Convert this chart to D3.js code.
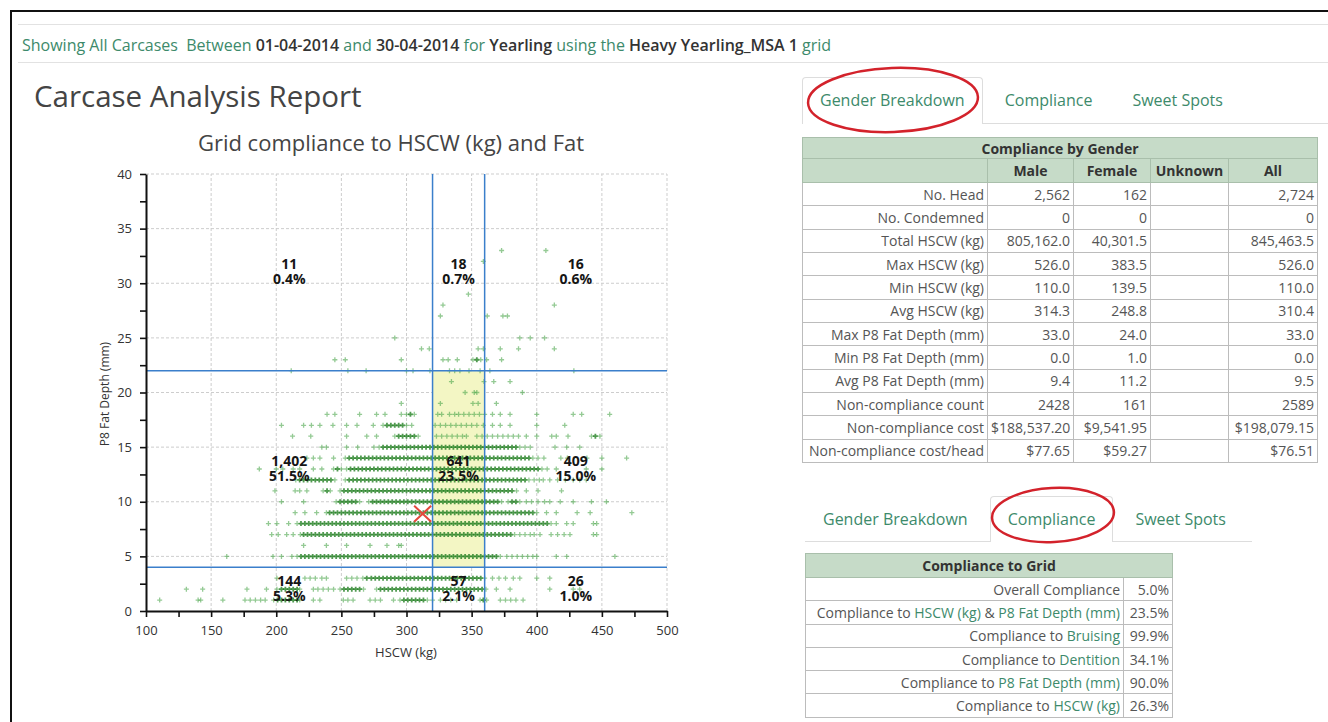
<!DOCTYPE html>
<html>
<head>
<meta charset="utf-8">
<title>Carcase Analysis Report</title>
<script src="https://cdn.jsdelivr.net/npm/d3@7"></script>
<style>
  body { margin: 0; background: #fff; font-family: "Open Sans", sans-serif; }
  #page { position: relative; width: 1328px; height: 722px; overflow: hidden; }
  #chart, #overlay { position: absolute; left: 0; top: 0; }
  #overlay { pointer-events: none; }
  .frame { position: absolute; left: 10px; top: 10px; width: 1330px; height: 720px; border-left: 2px solid #111; border-top: 2px solid #111; }
  .rule { position: absolute; left: 18px; width: 1310px; height: 1px; background: #e2e2e2; }
  #filter { position: absolute; left: 22px; top: 34px; font-size: 16px; color: #3d8a6b; white-space: nowrap; }
  #filter b { color: #333; font-weight: 600; }
  h1 { position: absolute; left: 34px; top: 75px; margin: 0; font-size: 29.5px; font-weight: 400; color: #444; }
  .tabs { position: absolute; display: flex; border-bottom: 1px solid #ddd; }
  .tab { padding: 0 17px; margin-right: 4px; font-size: 16px; color: #3d8a6b; border: 1px solid transparent; border-bottom: none; border-radius: 4px 4px 0 0; }
  .tab.active { border-color: #ddd; background: #fff; margin-bottom: -1px; }
  table { position: absolute; border-collapse: collapse; table-layout: fixed; font-size: 14px; color: #555; }
  td, th { border: 1px solid #bcbcbc; padding: 0 3px; text-align: right; white-space: nowrap; overflow: hidden; }
  th { background: #c6dbc8; color: #333; font-weight: 700; border-color: #a9bfab; }
  .hl { color: #3d8a6b; }
</style>
</head>
<body>
<div id="page">
  <svg id="chart"></svg>
  <div class="frame"></div>
  <div class="rule" style="top:24px"></div>
  <div class="rule" style="top:62px"></div>
  <div id="filter">Showing All Carcases&nbsp; Between <b>01-04-2014</b> and <b>30-04-2014</b> for <b>Yearling</b> using the <b>Heavy Yearling_MSA 1</b> grid</div>
  <h1>Carcase Analysis Report</h1>
  <div id="tabs1" class="tabs" style="left:802px;top:77px;width:526px;"></div>
  <table id="gender" style="left:802px;top:137px;width:515px;"></table>
  <div id="tabs2" class="tabs" style="left:805px;top:496px;width:447px;"></div>
  <table id="compliance" style="left:805px;top:553px;width:367px;"></table>
  <svg id="overlay"></svg>
</div>
<script>
var fatDepths = [33, 32, 29, 28, 27, 25, 24, 23, 22, 21, 20, 19, 18, 17, 16, 15, 14, 13, 12, 11, 10, 9, 8, 7, 6, 5, 3, 2, 1];
var hscwRows = [
  [373, 407],
  [359],
  [347.5],
  [328, 413.5],
  [326, 362, 374, 377.5],
  [291, 387, 395, 406],
  [311.5, 317.5, 355, 359, 372, 386, 413.5],
  [245, 253, 296, 328, 332, 339, 351, 354, 357, 361.5, 373],
  [211.5, 255, 269, 300, 305, 318, 333, 337, 341, 348, 356.5, 364, 428.5],
  [334.5, 359.5, 367, 379.5],
  [345, 352, 354, 389],
  [296, 326, 351, 355, 369],
  [239, 245, 264, 277, 283.5, 296, 300, 303, 306, 324, 327, 333, 337, 340, 344, 348, 352, 356, 360, 366, 372, 379.5, 400, 428, 434.5, 456],
  [204, 221, 227, 233.5, 243.5, 254, 262, 274.5, 282, 285, 288, 291, 294, 297, 300, 304, 322, 326, 330, 334, 338, 342, 346, 350, 354, 359, 366, 372, 379.5, 400, 421.5],
  [212.5, 226.5, 254, 269.5, 277, 291, 294, 297, 300, 303, 306, 309, 323, 327, 331, 335, 339, 343, 346, 354, 358, 362, 366, 370, 374, 378, 382, 386, 392, 400, 411.5, 415, 424, 442, 445, 448.5],
  [235, 238.5, 254, 262.5, 275, 279, 282, 285, 288, 291, 294, 297, 300, 303, 306, 309, 312, 315, 318, 321, 324, 327, 330, 333, 336, 339, 342, 345, 348, 351, 354, 357, 360, 363, 366, 369, 372, 375, 378, 381, 384, 387, 391, 395, 414, 423, 433],
  [223.5, 228.5, 233.5, 244, 253, 256, 259, 262, 265, 268, 271, 274, 277, 280, 283, 286, 289, 292, 295, 298, 301, 304, 307, 310, 313, 316, 319, 322, 325, 328, 331, 334, 337, 340, 343, 346, 349, 352, 355, 358, 361, 364, 367, 370, 373, 376, 379, 382, 385, 388, 391, 394, 397, 401, 405.5, 418.5, 423.5, 438.5, 450, 469],
  [187, 200, 205, 213, 218, 228.5, 235, 244, 247, 250, 254, 257, 260, 263, 266, 269, 272, 275, 278, 281, 284, 287, 290, 293, 296, 299, 302, 305, 308, 311, 314, 317, 320, 323, 326, 329, 332, 335, 338, 341, 344, 347, 350, 353, 356, 359, 362, 365, 368, 371, 374, 377, 380, 383, 386, 389, 392, 395, 398, 401, 404, 408, 415, 438, 450],
  [215, 218, 221, 224, 227, 230, 233, 236, 239, 242, 245, 253, 256, 259, 262, 265, 268, 271, 274, 277, 280, 283, 286, 289, 292, 295, 298, 301, 304, 307, 310, 313, 316, 319, 322, 325, 328, 331, 334, 337, 340, 343, 346, 349, 352, 355, 358, 361, 364, 367, 370, 373, 376, 379, 382, 385, 388, 391, 394, 398, 402, 405, 410, 416, 422, 428, 433, 438],
  [199, 214.5, 218, 223.5, 236, 239, 241.5, 249, 252, 255, 258, 261, 264, 267, 270, 273, 276, 279, 282, 285, 288, 291, 294, 297, 300, 303, 306, 309, 312, 315, 318, 321, 324, 327, 330, 333, 336, 339, 342, 345, 348, 351, 354, 357, 360, 363, 366, 369, 372, 375, 378, 381, 384.5, 392, 401, 419],
  [204, 221, 246, 249, 252, 255, 258, 261, 264, 271, 274, 277, 280, 283, 286, 289, 292, 295, 298, 301, 304, 307, 310, 313, 316, 319, 322, 325, 328, 331, 334, 337, 340, 343, 346, 349, 352, 355, 358, 361, 364, 367, 370, 373, 378, 381, 384, 387, 392, 396, 401, 406, 410, 418, 428, 442, 453.5],
  [214.5, 222, 231, 238.5, 241, 244, 247, 250, 253, 256, 259, 262, 265, 268, 271, 274, 277, 280, 283, 286, 289, 292, 295, 298, 301, 304, 307, 310, 313, 316, 319, 322, 325, 328, 331, 334, 337, 340, 343, 346, 349, 352, 355, 358, 361, 364, 367, 370, 373, 376, 379, 382, 385, 388, 391, 394, 397, 400, 407.5, 415, 431, 441, 473],
  [194, 200.5, 209.5, 216, 219, 222, 225, 228, 231, 234, 237, 240, 243, 246, 249, 252, 255, 258, 261, 264, 267, 270, 273, 276, 279, 282, 285, 288, 291, 294, 297, 300, 303, 306, 309, 312, 315, 318, 321, 324, 327, 330, 333, 336, 339, 342, 345, 348, 351, 354, 357, 360, 363, 366, 369, 372, 375, 378, 381, 384, 387, 390, 393, 396, 399, 402, 405, 408, 411, 415, 423, 428, 443.5, 446],
  [196.5, 201.5, 208, 213, 218.5, 221, 224, 227, 230, 233, 236, 239, 242, 245, 248, 251, 254, 257, 260, 263, 266, 269, 272, 275, 278, 281, 284, 287, 290, 293, 296, 299, 302, 305, 308, 311, 314, 317, 320, 323, 326, 329, 332, 335, 338, 341, 344, 347, 350, 353, 356, 359, 362, 365, 368, 371, 374, 377, 380, 383, 387, 391, 395, 398, 402.5, 411, 416, 421, 425.5, 443.5, 446],
  [221, 238.5, 254, 272, 285, 294, 296],
  [162, 197.5, 204, 212, 216, 219, 222, 225, 228, 231, 234, 237, 240, 243, 246, 249, 252, 255, 258, 261, 264, 267, 270, 273, 276, 279, 282, 285, 288, 291, 294, 297, 300, 303, 306, 309, 312, 315, 318, 321, 324, 327, 330, 333, 336, 339, 342, 345, 348, 351, 354, 357, 360, 363, 366, 369, 372, 377, 381, 385, 389, 393, 397, 400, 415, 423, 460],
  [200.5, 222, 226, 230, 235, 238.5, 254, 258, 262, 266.5, 269.5, 273, 276, 279, 282, 285, 288, 291, 294, 297, 300, 303, 306, 309, 312, 315, 318, 321, 324, 327, 330, 333, 336, 339, 342, 345, 348, 351, 354, 357, 360, 366, 371, 376, 382, 387, 400, 410],
  [131, 143.5, 177.5, 192.5, 200.5, 204, 207, 210, 213, 216, 218, 228.5, 232, 236, 240, 244, 249, 252, 255, 258, 261, 264, 267, 277, 280, 283, 286, 289, 292, 295, 298, 301, 304, 307, 310, 313, 316, 319, 322, 325, 328, 331, 334, 337, 340, 343, 346, 349, 352, 355, 358, 361, 369, 379.5, 410, 428, 433],
  [110.5, 140, 142, 159, 176, 180, 184, 188, 191.5, 198, 201, 204, 207, 210, 213, 216, 218, 228.5, 233.5, 251.5, 255, 259, 272, 276, 280, 290, 295, 298, 301, 304, 307, 310, 313, 316, 320, 326, 330, 334, 338.5, 356.5, 359, 361.5, 372, 376, 380, 384, 389.5]
];

// grid limits, zone results and average carcase
var hscwLimits = [320, 360];
var fatLimits = [4, 22];
var zoneCounts = [[11, 18, 16], [1402, 641, 409], [144, 57, 26]];
var zonePcts = [[0.4, 0.7, 0.6], [51.5, 23.5, 15.0], [5.3, 2.1, 1.0]];
var avgPoint = [312.4, 8.9];
var xTickValues = [100, 125, 150, 175, 200, 225, 250, 275, 300, 325, 350, 375, 400, 425, 450, 475, 500];
var yTickValues = [0, 2.5, 5, 7.5, 10, 12.5, 15, 17.5, 20, 22.5, 25, 27.5, 30, 32.5, 35, 37.5, 40];

// ---- gender breakdown table
var genderCols = ["Male", "Female", "Unknown", "All"];
var genderLabels = ["No. Head", "No. Condemned", "Total HSCW (kg)", "Max HSCW (kg)", "Min HSCW (kg)", "Avg HSCW (kg)",
  "Max P8 Fat Depth (mm)", "Min P8 Fat Depth (mm)", "Avg P8 Fat Depth (mm)", "Non-compliance count", "Non-compliance cost", "Non-compliance cost/head"];
var maleVals = ["2,562", "0", "805,162.0", "526.0", "110.0", "314.3", "33.0", "0.0", "9.4", "2428", "$188,537.20", "$77.65"];
var femaleVals = ["162", "0", "40,301.5", "383.5", "139.5", "248.8", "24.0", "1.0", "11.2", "161", "$9,541.95", "$59.27"];
var unknownVals = ["", "", "", "", "", "", "", "", "", "", "", ""];
var allVals = ["2,724", "0", "845,463.5", "526.0", "110.0", "310.4", "33.0", "0.0", "9.5", "2589", "$198,079.15", "$76.51"];

// ---- compliance table (odd parts are highlighted)
var complianceLabels = [
  ["Overall Compliance"],
  ["Compliance to ", "HSCW (kg)", " & ", "P8 Fat Depth (mm)"],
  ["Compliance to ", "Bruising"],
  ["Compliance to ", "Dentition"],
  ["Compliance to ", "P8 Fat Depth (mm)"],
  ["Compliance to ", "HSCW (kg)"]
];
var complianceVals = ["5.0%", "23.5%", "99.9%", "34.1%", "90.0%", "26.3%"];

var tabNames = ["Gender Breakdown", "Compliance", "Sweet Spots"];

// ================= chart =================
var svg = d3.select("#chart").attr("width", 1328).attr("height", 722)
  .style("font-family", "'Open Sans', sans-serif");

var x = d3.scaleLinear().domain([100, 500]).range([146, 667]);
var y = d3.scaleLinear().domain([0, 40]).range([611, 174]);

// title
svg.append("text")
  .attr("x", 391).attr("y", 151)
  .attr("text-anchor", "middle")
  .style("font-size", "22px").style("fill", "#444")
  .text("Grid compliance to HSCW (kg) and Fat");

// dashed grid
var grid = svg.append("g").attr("stroke", "#cdcdcd").attr("stroke-dasharray", "3,2");
grid.selectAll(".gx").data(xTickValues.filter(d => d % 50 === 0 && d > 100)).join("line")
  .attr("x1", d => x(d)).attr("x2", d => x(d)).attr("y1", y(0)).attr("y2", y(40));
grid.selectAll(".gy").data(yTickValues.filter(d => d % 5 === 0 && d > 0)).join("line")
  .attr("y1", d => y(d)).attr("y2", d => y(d)).attr("x1", x(100)).attr("x2", x(500));

// compliance box
svg.append("rect")
  .attr("x", x(hscwLimits[0])).attr("width", x(hscwLimits[1]) - x(hscwLimits[0]))
  .attr("y", y(fatLimits[1])).attr("height", y(fatLimits[0]) - y(fatLimits[1]))
  .style("fill", "#f3f6c4");

// points
var pts = [];
fatDepths.forEach(function(f, i) {
  var row = hscwRows[i];
  row.forEach(function(h) {
    var near = row.filter(v => Math.abs(v - h) <= 3.5).length - 1;
    pts.push({ fat: f, hscw: h, dense: near >= 2 });
  });
});
svg.append("g").selectAll("path").data(pts).join("path")
  .attr("transform", d => `translate(${x(d.hscw)},${y(d.fat)})`)
  .attr("d", "M-2.5,0H2.5M0,-2.5V2.5")
  .attr("fill", "none")
  .attr("stroke", d => d.dense ? "#1f7d1f" : "#4da64d")
  .attr("stroke-width", d => d.dense ? 1.8 : 1.3)
  .attr("opacity", d => d.dense ? 0.78 : 0.6);

// grid limit lines
var limits = svg.append("g").attr("stroke", "#3b7fcb").attr("stroke-width", 1.5);
limits.selectAll(".lx").data(hscwLimits).join("line")
  .attr("x1", d => x(d)).attr("x2", d => x(d)).attr("y1", y(0)).attr("y2", y(40));
limits.selectAll(".ly").data(fatLimits).join("line")
  .attr("y1", d => y(d)).attr("y2", d => y(d)).attr("x1", x(100)).attr("x2", x(500));

// axes
var xAxis = d3.axisBottom(x).tickValues(xTickValues).tickSize(6).tickSizeOuter(0).tickPadding(9)
  .tickFormat(d => d % 50 === 0 ? d : "");
var yAxis = d3.axisLeft(y).tickValues(yTickValues).tickSize(6).tickSizeOuter(0).tickPadding(8)
  .tickFormat(d => d % 5 === 0 ? d : "");

var gx = svg.append("g").attr("transform", `translate(0,${y(0)})`).call(xAxis);
var gy = svg.append("g").attr("transform", `translate(${x(100)},0)`).call(yAxis);
[gx, gy].forEach(function(g) {
  g.attr("font-family", null).attr("font-size", null);
  g.select(".domain").attr("stroke", "#111").attr("stroke-width", 2);
  g.selectAll(".tick line").attr("stroke", "#111").attr("stroke-width", 1.6);
  g.selectAll(".tick text").style("font-size", "13px").style("fill", "#333");
});

svg.append("text")
  .attr("x", 406).attr("y", 657).attr("text-anchor", "middle")
  .style("font-size", "13px").style("fill", "#333")
  .text("HSCW (kg)");
svg.append("text")
  .attr("transform", "translate(109,394) rotate(-90)")
  .attr("text-anchor", "middle")
  .style("font-size", "12px").style("fill", "#333")
  .text("P8 Fat Depth (mm)");

// zone labels
var xEdges = [100].concat(hscwLimits, [500]);
var yEdges = [40].concat(fatLimits.slice().reverse(), [0]);
var zones = [];
zoneCounts.forEach(function(row, r) {
  row.forEach(function(c, k) {
    zones.push({ count: c, pct: zonePcts[r][k],
      cx: (xEdges[k] + xEdges[k + 1]) / 2, cy: (yEdges[r] + yEdges[r + 1]) / 2 });
  });
});
var zl = svg.append("g").selectAll("text").data(zones).join("text")
  .attr("x", d => x(d.cx)).attr("y", d => y(d.cy))
  .attr("text-anchor", "middle")
  .style("font-size", "14px").style("font-weight", "700").style("fill", "#151515");
zl.append("tspan").attr("x", d => x(d.cx)).attr("dy", -3).text(d => d3.format(",")(d.count));
zl.append("tspan").attr("x", d => x(d.cx)).attr("dy", 15).text(d => d3.format(".1f")(d.pct) + "%");

// average marker
var ax = x(avgPoint[0]), ay = y(avgPoint[1]);
svg.append("path")
  .attr("d", `M${ax - 8.5},${ay - 8}L${ax + 8.5},${ay + 8}M${ax - 8.5},${ay + 8}L${ax + 8.5},${ay - 8}`)
  .attr("stroke", "#e5473b").attr("stroke-width", 2).attr("fill", "none");

// ================= tabs =================
function drawTabs(sel, active, h) {
  d3.select(sel).selectAll("div").data(tabNames).join("div")
    .attr("class", (d, i) => i === active ? "tab active" : "tab")
    .style("line-height", h + "px")
    .text(d => d);
}
drawTabs("#tabs1", 0, 45);
drawTabs("#tabs2", 1, 44);

// ================= tables =================
var gt = d3.select("#gender");
var colW = [185, 86, 77, 78, 89];
gt.append("colgroup").selectAll("col").data(colW).join("col").style("width", d => d + "px");
gt.append("tr").style("height", "21px")
  .append("th").attr("colspan", 5).style("text-align", "center").text("Compliance by Gender");
gt.append("tr").style("height", "24px").selectAll("th").data([""].concat(genderCols)).join("th")
  .style("text-align", "center")
  .text(d => d);
genderLabels.forEach(function(lbl, i) {
  var tr = gt.append("tr").style("height", "23.35px");
  [lbl, maleVals[i], femaleVals[i], unknownVals[i], allVals[i]].forEach(function(v) {
    tr.append("td").text(v);
  });
});

var ct = d3.select("#compliance");
ct.append("colgroup").selectAll("col").data([318, 49]).join("col").style("width", d => d + "px");
ct.append("tr").style("height", "24px")
  .append("th").attr("colspan", 2).style("text-align", "center").text("Compliance to Grid");
complianceLabels.forEach(function(parts, i) {
  var tr = ct.append("tr").style("height", "23.3px");
  tr.append("td").selectAll("span").data(parts).join("span")
    .attr("class", (d, k) => k % 2 === 1 ? "hl" : null)
    .text(d => d);
  tr.append("td").text(complianceVals[i]);
});

// ================= annotation ellipses =================
var ov = d3.select("#overlay").attr("width", 1328).attr("height", 722);
ov.append("ellipse").attr("cx", 893).attr("cy", 100).attr("rx", 85).attr("ry", 32)
  .attr("transform", "rotate(-2,893,100)")
  .attr("fill", "none").attr("stroke", "#d3222b").attr("stroke-width", 2.5);
ov.append("ellipse").attr("cx", 1053).attr("cy", 515).attr("rx", 61).attr("ry", 27)
  .attr("transform", "rotate(-3,1053,515)")
  .attr("fill", "none").attr("stroke", "#d3222b").attr("stroke-width", 2.5);
</script>
</body>
</html>
